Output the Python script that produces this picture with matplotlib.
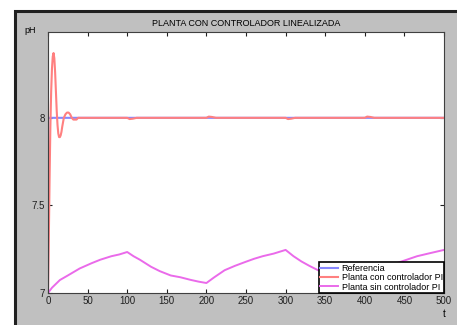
import matplotlib
matplotlib.use("Agg")
from matplotlib import pyplot as plt
from matplotlib.patches import Rectangle

plt.rcParams['font.family'] = ['Liberation Sans', 'DejaVu Sans']

# reference (setpoint)
ref_t = [0, 0.3, 500]
ref_ph = [7.0, 8.0, 8.0]

# plant with PI controller
pi_t = [0, 1, 2, 3, 4, 5, 6, 7, 8, 9, 10, 11, 12, 13, 14, 15, 16, 17, 18, 20,
        22, 24, 26, 28, 30, 32, 34, 36, 38, 40, 95, 100, 103, 107, 112,
        195, 200, 203, 207, 212, 295, 300, 303, 307, 312,
        395, 400, 403, 407, 412, 500]
pi_ph = [7.0, 7.3, 7.65, 7.95, 8.15, 8.28, 8.35, 8.37, 8.34, 8.26, 8.15, 8.04,
         7.96, 7.91, 7.89, 7.89, 7.90, 7.92, 7.95, 8.0,
         8.02, 8.03, 8.03, 8.02, 8.0, 7.99, 7.99, 7.99, 8.0, 8.0, 8.0, 8.0,
         7.993, 7.995, 8.0,
         8.0, 8.0, 8.007, 8.005, 8.0, 8.0, 8.0, 7.993, 7.995, 8.0,
         8.0, 8.0, 8.007, 8.005, 8.0, 8.0]

# plant without controller
open_t = [0, 5, 15, 25, 40, 55, 66, 80, 90, 100, 108, 116, 130, 141, 155, 167,
          180, 190, 200, 210, 223, 236, 249, 260, 271, 285, 300, 310, 320, 330,
          341, 355, 370, 385, 400, 415, 428, 440, 453, 466, 480, 500]
open_ph = [7.0, 7.03, 7.074, 7.10, 7.14, 7.17, 7.19, 7.21, 7.22, 7.234, 7.21,
           7.19, 7.15, 7.125, 7.10, 7.09, 7.075, 7.065, 7.057, 7.09, 7.13,
           7.155, 7.177, 7.195, 7.21, 7.225, 7.246, 7.21, 7.18, 7.155, 7.13,
           7.11, 7.09, 7.075, 7.06, 7.10, 7.14, 7.17, 7.19, 7.21, 7.225, 7.246]

fig = plt.figure(figsize=(4.57, 3.25), dpi=100, facecolor='white')
# grey window with dark frame on left/top
fig.patches.append(Rectangle((14.5 / 457, -0.1), 1.2, 1.1 - 11.5 / 325,
                             transform=fig.transFigure, facecolor='#c0c0c0',
                             edgecolor='#202020', linewidth=2.2, zorder=-5))

ax = fig.add_axes([48 / 457, 1 - 293 / 325, 396 / 457, 261 / 325])
ax.set_zorder(1)
ax.set_facecolor('white')

ax.plot(ref_t, ref_ph, color='#8888ff', lw=1.5, label='Referencia')
ax.plot(pi_t, pi_ph, color='#ff8080', lw=1.5, label='Planta con controlador PI')
ax.plot(open_t, open_ph, color='#ea6aea', lw=1.4, label='Planta sin controlador PI')

ax.set_xlim(0, 500)
ax.set_ylim(7, 8.49)
ax.set_xticks(range(0, 501, 50))
ax.set_yticks([7, 7.5, 8])
ax.set_yticklabels(['7', '7.5', '8'])
ax.tick_params(direction='in', top=True, right=True, length=3, width=0.8,
               labelsize=7, pad=2, colors='#202020')
for s in ax.spines.values():
    s.set_color('#404040')
    s.set_linewidth(0.8)

ax.set_title('PLANTA CON CONTROLADOR LINEALIZADA', fontsize=6.5, pad=4)
ax.text(-0.045, 1.005, 'pH', transform=ax.transAxes, fontsize=6.5, ha='center', va='center')
ax.text(1.0, -0.06, 't', transform=ax.transAxes, fontsize=7, ha='center', va='top')

leg = ax.legend(loc='lower right', fontsize=6.5, borderaxespad=0, borderpad=0.15,
                labelspacing=0.05, handlelength=2.0, handletextpad=0.4,
                fancybox=False, framealpha=1)
leg.get_frame().set_edgecolor('black')
leg.get_frame().set_linewidth(1.2)

fig.savefig('out.png', dpi=100, facecolor=fig.get_facecolor())
